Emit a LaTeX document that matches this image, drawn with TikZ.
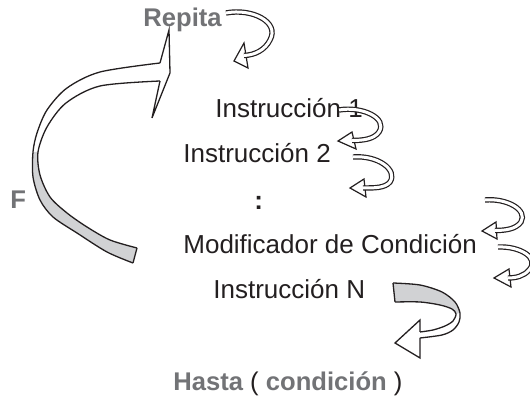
\documentclass[tikz,border=0pt]{standalone}
\usepackage{fontspec}
\setmainfont{Liberation Sans}
\usepackage{xcolor}
\definecolor{slate}{RGB}{114,115,118}
\definecolor{ink}{RGB}{35,31,32}
\definecolor{band}{RGB}{209,210,212}

\begin{document}
\begin{tikzpicture}[x=0.5pt, y=-0.5pt,
  txt/.style={anchor=base west, inner sep=0pt, text=ink, font=\fontsize{13}{15}\selectfont},
  key/.style={anchor=base west, inner sep=0pt, text=slate, font=\fontsize{12.8}{15}\selectfont\bfseries},
  ribbon/.style={draw=ink, line width=0.6pt, double=white, double distance=1.5pt},
  headtip/.style={draw=ink, fill=white, line width=0.6pt, line join=miter},
  edge/.style={draw=ink, line width=0.65pt, line join=miter}]
\useasboundingbox (0,0) rectangle (530,399);
\node[key] (repita) at (143,27) {Repita};
\node[txt] (instrA) at (215,118) {Instrucción 1};
\node[txt] (instrB) at (183,163) {Instrucción 2};
\node[txt] (dots) at (254,210) {\bfseries :};
\node[txt] (modif) at (183,254) {Modificador de Condición};
\node[txt] (instrN) at (213,299) {Instrucción N};
\node[key] (hasta) at (173,391) {Hasta {\mdseries\color{ink}(} condición {\mdseries\color{ink})}};
\node[key] (flag) at (10,209) {F};
\fill[band] plot[smooth] coordinates {(33,152) (33,177) (40,200) (53,217) (77,233) (107,252) (133,263)} -- (137,248) -- plot[smooth] coordinates {(137,248) (110,240) (87,227) (67,213) (50,197) (40,175) (38,152)} -- cycle;
\draw[edge] plot[smooth] coordinates {(160,63) (100,72) (67,88) (47,110) (37,133) (33,152) (33,177) (40,200) (53,217) (77,233) (107,252) (133,263)};
\draw[edge] plot[smooth] coordinates {(160,81) (100,86) (66,103) (47,127) (38,152) (40,175) (50,197) (67,213) (87,227) (110,240) (137,248)};
\draw[edge] (160,63) -- (169,30) -- (170,73) -- (152,118) -- (160,81);
\draw[edge] (133,263) -- (137,248);
\fill[band] plot[smooth] coordinates {(393,283) (420,285) (442,292) (455,302) (460,313)} -- plot[smooth] coordinates {(456,314) (452,309) (440,305) (420,302) (395,302)} -- cycle;
\draw[edge] plot[smooth] coordinates {(393,283) (420,285) (442,292) (455,302) (460,313) (459,322) (453,330) (442,335) (420,338)};
\draw[edge] plot[smooth] coordinates {(395,302) (420,302) (440,305) (452,309) (456,314) (453,321) (445,326) (433,330) (420,332)};
\draw[edge] (393,283) -- (395,302);
\draw[edge] (420,332) -- (420,320) -- (395,343) -- (420,358) -- (420,338);
\draw[headtip] (234,61) -- (244,43) -- (248,68) -- cycle;
\draw[ribbon] (226,13) .. controls (252,8) and (280,22) .. (270,40) .. controls (265,50) and (255,55) .. (244,55.5);
\draw[headtip] (338,141) -- (352,132) -- (356,149) -- cycle;
\draw[ribbon] (339,110) .. controls (362,106) and (388,118) .. (379,132) .. controls (374,139) and (364,140.5) .. (352,140.5);
\draw[headtip] (350,188) -- (364,179) -- (366,197) -- cycle;
\draw[ribbon] (353,157) .. controls (378,155) and (398,170) .. (390,182) .. controls (385,188) and (375,188) .. (363,188);
\draw[headtip] (482,231) -- (496,222) -- (497,239) -- cycle;
\draw[ribbon] (485,200) .. controls (507,198) and (528,210) .. (521,222) .. controls (516,229) and (506,230.5) .. (495,230.5);
\draw[headtip] (494,278) -- (509,269) -- (511,287) -- cycle;
\draw[ribbon] (498,247) .. controls (520,246) and (540,258) .. (529,270) .. controls (524,276) and (516,278) .. (508,278);
\end{tikzpicture}
\end{document}
